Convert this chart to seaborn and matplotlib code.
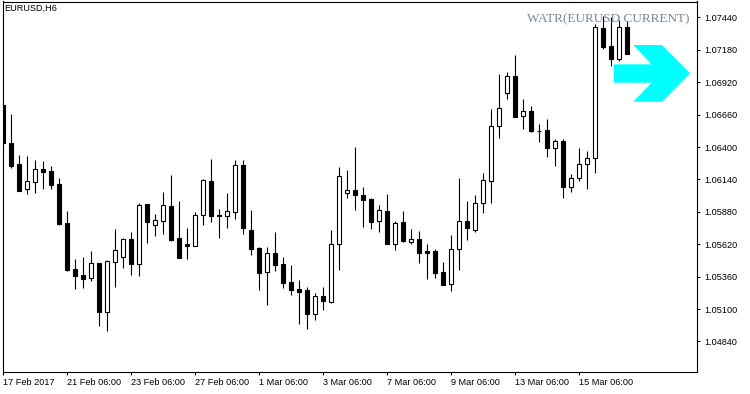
import matplotlib
matplotlib.use('Agg')
import matplotlib.pyplot as plt
from matplotlib.patches import Polygon
import seaborn as sns
import pandas as pd

# EURUSD H6 candles (one bar every 6 hours)
opens = [1.06738, 1.06430, 1.06264, 1.06066, 1.06122, 1.06224, 1.06208, 1.06104, 1.05791, 1.05422,
         1.05374, 1.05347, 1.05468, 1.05079, 1.05480, 1.05520, 1.05660, 1.05459, 1.05941, 1.05777,
         1.05809, 1.05925, 1.05668, 1.05622, 1.05609, 1.05853, 1.06126, 1.05853, 1.05849, 1.05882,
         1.06254, 1.05732, 1.05590, 1.05395, 1.05548, 1.05462, 1.05315, 1.05259, 1.05253, 1.05058,
         1.05205, 1.05159, 1.05620, 1.06029, 1.06053, 1.06016, 1.05981, 1.05805, 1.05887, 1.05625,
         1.05799, 1.05636, 1.05662, 1.05566, 1.05566, 1.05398, 1.05304, 1.05580, 1.05807, 1.05735,
         1.05949, 1.06130, 1.06567, 1.06832, 1.06971, 1.06646, 1.06687, 1.06533, 1.06535, 1.06390,
         1.06447, 1.06076, 1.06150, 1.06264, 1.06310, 1.07353, 1.07209, 1.07107, 1.07361]
highs = [1.06746, 1.06666, 1.06337, 1.06329, 1.06296, 1.06288, 1.06248, 1.06150, 1.05887, 1.05500,
         1.05516, 1.05566, 1.05472, 1.05494, 1.05743, 1.05668, 1.05719, 1.05949, 1.05943, 1.05861,
         1.06037, 1.06176, 1.05967, 1.05751, 1.05879, 1.06142, 1.06305, 1.05901, 1.06032, 1.06294,
         1.06294, 1.05895, 1.05596, 1.05596, 1.05719, 1.05518, 1.05451, 1.05333, 1.05280, 1.05227,
         1.05280, 1.05735, 1.06238, 1.06216, 1.06403, 1.06077, 1.05989, 1.05935, 1.06024, 1.05807,
         1.05887, 1.05743, 1.05727, 1.05622, 1.05580, 1.05478, 1.05695, 1.06152, 1.05967, 1.06016,
         1.06195, 1.06706, 1.06987, 1.07003, 1.07139, 1.06784, 1.06730, 1.06585, 1.06625, 1.06463,
         1.06463, 1.06184, 1.06390, 1.06369, 1.07384, 1.07452, 1.07444, 1.07420, 1.07412]
lows = [1.06430, 1.06230, 1.06045, 1.06024, 1.06034, 1.06064, 1.06066, 1.05777, 1.05408, 1.05259,
        1.05267, 1.05328, 1.04967, 1.04927, 1.05277, 1.05432, 1.05370, 1.05368, 1.05633, 1.05689,
        1.05700, 1.05649, 1.05510, 1.05502, 1.05606, 1.05777, 1.05801, 1.05673, 1.05753, 1.05825,
        1.05705, 1.05537, 1.05253, 1.05135, 1.05408, 1.05272, 1.05216, 1.04983, 1.04943, 1.05015,
        1.05093, 1.05151, 1.05414, 1.05994, 1.05895, 1.05761, 1.05745, 1.05721, 1.05622, 1.05577,
        1.05641, 1.05625, 1.05472, 1.05344, 1.05352, 1.05294, 1.05248, 1.05416, 1.05657, 1.05716,
        1.05874, 1.05954, 1.06475, 1.06784, 1.06642, 1.06548, 1.06524, 1.06443, 1.06323, 1.06251,
        1.05994, 1.06042, 1.06130, 1.06064, 1.06195, 1.07191, 1.07051, 1.07091, 1.07149]
closes = [1.06433, 1.06251, 1.06048, 1.06128, 1.06222, 1.06203, 1.06096, 1.05783, 1.05414, 1.05366,
          1.05344, 1.05468, 1.05079, 1.05486, 1.05574, 1.05660, 1.05459, 1.05933, 1.05801, 1.05813,
          1.05933, 1.05654, 1.05512, 1.05606, 1.05853, 1.06134, 1.05849, 1.05851, 1.05885, 1.06254,
          1.05753, 1.05585, 1.05392, 1.05548, 1.05456, 1.05312, 1.05251, 1.05240, 1.05058, 1.05205,
          1.05163, 1.05620, 1.06168, 1.06053, 1.06013, 1.05975, 1.05801, 1.05893, 1.05625, 1.05788,
          1.05649, 1.05662, 1.05553, 1.05553, 1.05392, 1.05296, 1.05582, 1.05807, 1.05753, 1.05949,
          1.06134, 1.06569, 1.06714, 1.06971, 1.06644, 1.06687, 1.06529, 1.06531, 1.06389, 1.06447,
          1.06076, 1.06150, 1.06264, 1.06310, 1.07361, 1.07206, 1.07105, 1.07361, 1.07151]

price_ticks = [1.04840, 1.05100, 1.05360, 1.05620, 1.05880, 1.06140, 1.06400, 1.06660, 1.06920, 1.07180, 1.07440]
time_tick_bars = [0, 8, 16, 24, 32, 40, 48, 56, 64, 72]
time_tick_labels = ['17 Feb 2017', '21 Feb 06:00', '23 Feb 06:00', '27 Feb 06:00', '1 Mar 06:00',
                    '3 Mar 06:00', '7 Mar 06:00', '9 Mar 06:00', '13 Mar 06:00', '15 Mar 06:00']

W, H = 750, 394
# arrow of the indicator (pixel outline, top-left origin)
arrow_px = [(614, 64.3), (651.7, 64.3), (633.3, 45), (662, 45), (690, 73.3),
            (662, 101.7), (633.3, 101.7), (651.7, 82.7), (614, 82.7)]

df = pd.DataFrame({'open': opens, 'high': highs, 'low': lows, 'close': closes})
df['bar'] = range(len(df))
df['bull'] = df['close'] >= df['open']

sns.set_style('white')
plt.rcParams['font.family'] = ['Liberation Sans', 'DejaVu Sans']

fig = plt.figure(figsize=(W / 100, H / 100), dpi=100)
ax = fig.add_axes([2.5 / W, (H - 372) / H, (697 - 2.5) / W, (372 - 1.5) / H])

# wicks first, bodies on top
ax.vlines(df['bar'], df['low'], df['high'], color='black', linewidth=0.8, zorder=2)
body_bottom = df[['open', 'close']].min(axis=1)
body_height = (df['close'] - df['open']).abs()
ax.bar(df['bar'], body_height, bottom=body_bottom, width=0.55,
       color=['white' if b else 'black' for b in df['bull']],
       edgecolor='black', linewidth=0.8, zorder=3)

ax.set_xlim(-0.05, 86.75)
ax.set_ylim(1.045951, 1.075684)

ax.yaxis.tick_right()
ax.set_yticks(price_ticks)
ax.set_yticklabels(['%.5f' % v for v in price_ticks])
ax.set_xticks(time_tick_bars)
ax.set_xticklabels(time_tick_labels, ha='left')
ax.tick_params(axis='both', direction='out', length=2.5, width=0.8, colors='black',
               labelsize=6.6, pad=1.5)
ax.tick_params(axis='y', left=False, right=True, pad=2.5)
ax.tick_params(axis='x', bottom=True)
for sp in ax.spines.values():
    sp.set_visible(True)
    sp.set_color('black')
    sp.set_linewidth(0.8)
ax.grid(False)

ax.text(0.002, 0.993, 'EURUSD,H6', transform=ax.transAxes, ha='left', va='top',
        fontsize=6.6, color='black')
ax.text(0.9899, 0.952, 'WATR(EURUSD CURRENT)', transform=ax.transAxes, ha='right', va='center',
        fontsize=9.5, color='#778899', family=['Liberation Serif', 'DejaVu Serif'], zorder=5)

arrow = Polygon([(x / W, 1 - y / H) for x, y in arrow_px], closed=True,
                transform=fig.transFigure, facecolor='#00ffff', edgecolor='none', zorder=4)
fig.patches.append(arrow)

fig.savefig('out.png', dpi=100, facecolor='white')
